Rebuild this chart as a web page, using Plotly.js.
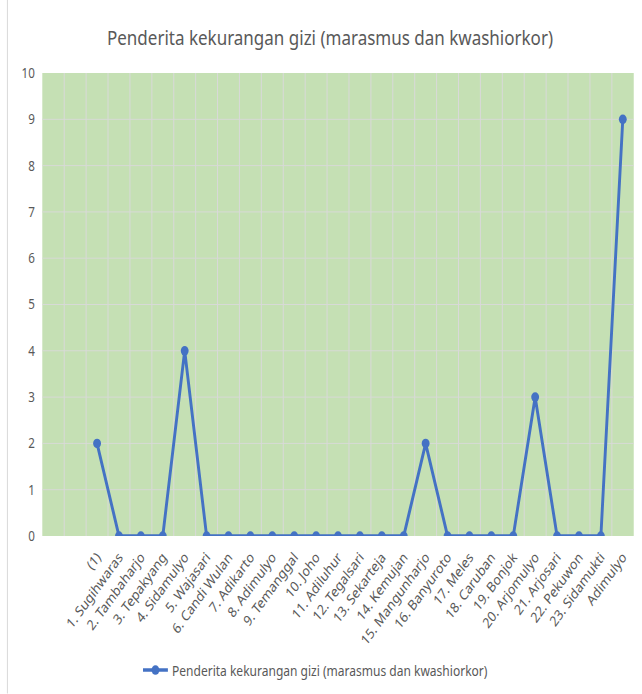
<!DOCTYPE html>
<html>
<head>
<meta charset="utf-8">
<script src="https://cdn.plot.ly/plotly-3.0.1.min.js"></script>
<style>
html,body{margin:0;padding:0;background:#fff;overflow:hidden;width:642px;height:694px;}
#wrap{width:642px;height:694px;overflow:hidden;}
#chart{width:774px;height:694px;transform:scaleX(0.8295);transform-origin:0 0;}
</style>
</head>
<body>
<div id="wrap"><div id="chart"></div></div>
<script>
const emptySlots = ["\u00a0", "\u00a0\u00a0"];
const categories = ["(1)", "1. Sugihwaras", "2. Tambaharjo", "3. Tepakyang", "4. Sidamulyo", "5. Wajasari",
  "6. Candi Wulan", "7. Adikarto", "8. Adimulyo", "9. Temanggal", "10. Joho", "11. Adiluhur",
  "12. Tegalsari", "13. Sekarteja", "14. Kemujan", "15. Mangunharjo", "16. Banyuroto", "17. Meles",
  "18. Caruban", "19. Bonjok", "20. Arjomulyo", "21. Arjosari", "22. Pekuwon", "23. Sidamukti", "Adimulyo"];
const values = [2, 0, 0, 0, 4, 0, 0, 0, 0, 0, 0, 0, 0, 0, 0, 2, 0, 0, 0, 0, 3, 0, 0, 0, 9];
const seriesName = "Penderita kekurangan gizi (marasmus dan kwashiorkor)";
const titleText = "Penderita kekurangan gizi (marasmus dan kwashiorkor)";

const font = "Noto Sans, Open Sans, sans-serif";
const trace = {
  type: "scatter", mode: "lines+markers", name: seriesName,
  x: categories, y: values,
  line: {color: "#4472C4", width: 3.5},
  marker: {color: "#4472C4", size: 9.5}
};
const layout = {
  width: 774, height: 694,
  margin: {l: 50.6, r: 9.6, t: 73, b: 157},
  paper_bgcolor: "#ffffff", plot_bgcolor: "#C5E0B4",
  title: {text: titleText, x: 0.514, xanchor: "center", y: 0.945, yanchor: "middle",
    font: {family: font, size: 20.5, color: "#595959"}},
  xaxis: {type: "category", categoryorder: "array", categoryarray: emptySlots.concat(categories),
    range: [-0.5, 26.5], tickson: "boundaries", ticks: "", showgrid: true, gridcolor: "#D9D9D9", gridwidth: 1.2,
    tickangle: -49, ticklabelstandoff: 9, tickfont: {family: font, size: 14.5, color: "#595959"},
    zeroline: false, showline: false},
  yaxis: {range: [0, 10], dtick: 1, showgrid: true, gridcolor: "#D9D9D9", gridwidth: 1, zeroline: false,
    ticks: "", ticklabelstandoff: 8, tickfont: {family: font, size: 14, color: "#595959"}, showline: false},
  showlegend: true,
  legend: {orientation: "h", x: 0.462, xanchor: "center", y: -0.287, yanchor: "middle",
    font: {family: font, size: 14.5, color: "#595959"}, itemwidth: 30},
  shapes: [{type: "line", xref: "paper", yref: "paper", x0: -0.059, x1: -0.059, y0: -0.34, y1: 1.16,
    line: {color: "#D9D9D9", width: 1.2}}]
};
Plotly.newPlot("chart", [trace], layout, {displayModeBar: false, staticPlot: true});
</script>
</body>
</html>
